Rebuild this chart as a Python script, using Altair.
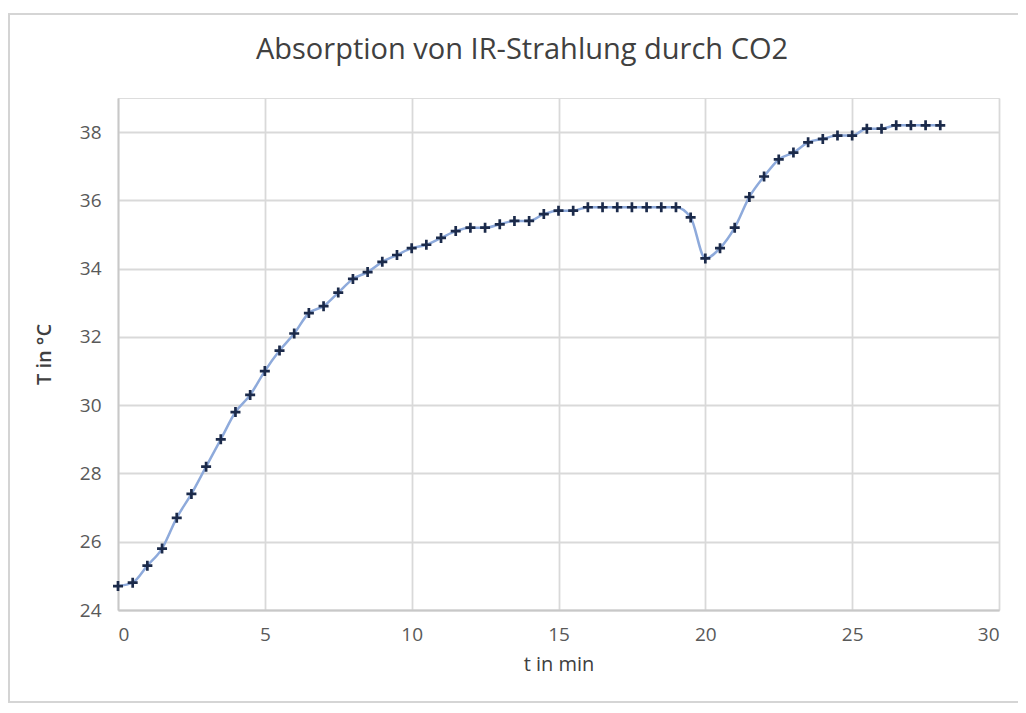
import altair as alt
import pandas as pd

# Data
time_min = [0, 0.5, 1, 1.5, 2, 2.5, 3, 3.5, 4, 4.5, 5, 5.5, 6, 6.5, 7, 7.5, 8, 8.5, 9, 9.5,
            10, 10.5, 11, 11.5, 12, 12.5, 13, 13.5, 14, 14.5, 15, 15.5, 16, 16.5, 17, 17.5,
            18, 18.5, 19, 19.5, 20, 20.5, 21, 21.5, 22, 22.5, 23, 23.5, 24, 24.5, 25, 25.5,
            26, 26.5, 27, 27.5, 28]
temp_c = [24.7, 24.8, 25.3, 25.8, 26.7, 27.4, 28.2, 29.0, 29.8, 30.3, 31.0, 31.6, 32.1, 32.7,
          32.9, 33.3, 33.7, 33.9, 34.2, 34.4, 34.6, 34.7, 34.9, 35.1, 35.2, 35.2, 35.3, 35.4,
          35.4, 35.6, 35.7, 35.7, 35.8, 35.8, 35.8, 35.8, 35.8, 35.8, 35.8, 35.5, 34.3, 34.6,
          35.2, 36.1, 36.7, 37.2, 37.4, 37.7, 37.8, 37.9, 37.9, 38.1, 38.1, 38.2, 38.2, 38.2,
          38.2]
x_ticks = [0, 5, 10, 15, 20, 25, 30]
y_ticks = [24, 26, 28, 30, 32, 34, 36, 38]

title_text = "Absorption von IR-Strahlung durch CO2"
x_title = "t in min"
y_title = "T in °C"

df = pd.DataFrame({"t": time_min, "T": temp_c})
title_df = pd.DataFrame({"title": [title_text]})

FONT = "Open Sans"
W, H = 881, 512

xs = alt.Scale(domain=[0, 30], nice=False, zero=False)
ys = alt.Scale(domain=[24, 39], nice=False, zero=False)

x_axis = alt.Axis(values=x_ticks, title=x_title, grid=True, gridColor="#d9d9d9", gridWidth=1.8,
                  domainColor="#c8c8c8", domainWidth=1.8, ticks=False, labelPadding=15,
                  labelFontSize=19, labelColor="#595959", labelFont=FONT,
                  titleFont=FONT, titleFontSize=20, titleColor="#404040",
                  titleFontWeight="normal", titlePadding=10, format="d")
y_axis = alt.Axis(values=y_ticks, title=y_title, grid=True, gridColor="#d9d9d9", gridWidth=1.8,
                  domainColor="#c8c8c8", domainWidth=1.8, ticks=False, labelPadding=17,
                  labelFontSize=19, labelColor="#595959", labelFont=FONT,
                  titleFont=FONT, titleFontSize=20, titleColor="#404040",
                  titleFontWeight=600, titlePadding=25, format="d")

base = alt.Chart(df)

line = base.mark_line(color="#8eaadb", strokeWidth=2.5, interpolate="monotone").encode(
    x=alt.X("t:Q", scale=xs, axis=x_axis),
    y=alt.Y("T:Q", scale=ys, axis=y_axis),
)

points = base.mark_point(shape="M-1,0H1M0,-1V1", size=100, stroke="#1b2a4a",
                         strokeWidth=2.7, filled=False, opacity=1).encode(
    x=alt.X("t:Q", scale=xs),
    y=alt.Y("T:Q", scale=ys),
)

title_mark = alt.Chart(title_df).mark_text(
    font=FONT, fontSize=29, color="#404040", align="center", baseline="alphabetic"
).encode(text="title:N", x=alt.value(404), y=alt.value(-39))

# light frame around the pasted figure
frame_left = alt.Chart(df).mark_rule(color="#d4d4d4", strokeWidth=1.5).encode(
    x=alt.value(-109.5), y=alt.value(-84), y2=alt.value(604))
frame_top = alt.Chart(df).mark_rule(color="#d4d4d4", strokeWidth=1.5).encode(
    x=alt.value(-110), x2=alt.value(900), y=alt.value(-84))
frame_bottom = alt.Chart(df).mark_rule(color="#d4d4d4", strokeWidth=1.5).encode(
    x=alt.value(-110), x2=alt.value(900), y=alt.value(604))

chart = alt.layer(frame_left, frame_top, frame_bottom, line, points, title_mark).properties(
    width=W, height=H,
    autosize=alt.AutoSizeParams(type="none"),
    padding={"left": 110, "top": 90, "right": 19, "bottom": 94},
).configure_view(stroke=None).configure(background="white")

chart.save("out.html", embed_options={"renderer": "svg", "actions": False})
